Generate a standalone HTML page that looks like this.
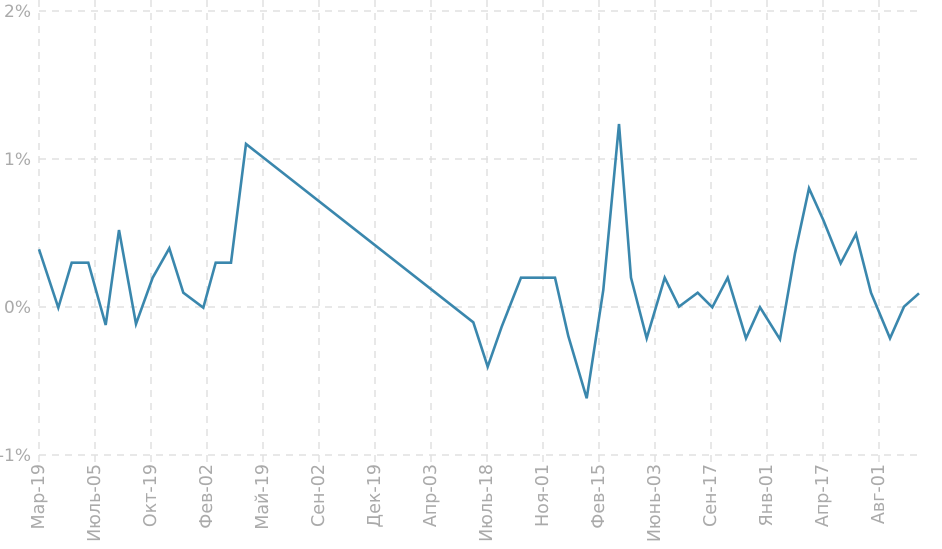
<!DOCTYPE html>
<html><head><meta charset="utf-8"><style>
html,body{margin:0;padding:0;background:#fff;}
svg{display:block;font-family:"DejaVu Sans","Liberation Sans",sans-serif;}
</style></head><body>
<svg width="942" height="549" viewBox="0 0 942 549" xmlns="http://www.w3.org/2000/svg">
<g stroke="#e0e0e0" stroke-width="1.5" stroke-dasharray="7,6" fill="none">
<line x1="39" y1="11" x2="919" y2="11"/>
<line x1="39" y1="159" x2="919" y2="159"/>
<line x1="39" y1="307" x2="919" y2="307"/>
<line x1="39" y1="455" x2="919" y2="455"/>
<line x1="39" y1="0" x2="39" y2="462"/>
<line x1="95" y1="0" x2="95" y2="462"/>
<line x1="151" y1="0" x2="151" y2="462"/>
<line x1="207" y1="0" x2="207" y2="462"/>
<line x1="263" y1="0" x2="263" y2="462"/>
<line x1="319" y1="0" x2="319" y2="462"/>
<line x1="375" y1="0" x2="375" y2="462"/>
<line x1="431" y1="0" x2="431" y2="462"/>
<line x1="487" y1="0" x2="487" y2="462"/>
<line x1="543" y1="0" x2="543" y2="462"/>
<line x1="599" y1="0" x2="599" y2="462"/>
<line x1="655" y1="0" x2="655" y2="462"/>
<line x1="711" y1="0" x2="711" y2="462"/>
<line x1="767" y1="0" x2="767" y2="462"/>
<line x1="823" y1="0" x2="823" y2="462"/>
<line x1="879" y1="0" x2="879" y2="462"/>
</g>
<g fill="#aaaaaa" font-size="17" text-anchor="end">
<text x="31" y="17">2%</text>
<text x="31" y="165">1%</text>
<text x="31" y="313">0%</text>
<text x="31" y="461">-1%</text>
</g>
<g fill="#aaaaaa" font-size="17.5" text-anchor="end">
<text transform="translate(44,464) rotate(-90)">Мар-19</text>
<text transform="translate(100,464) rotate(-90)">Июль-05</text>
<text transform="translate(156,464) rotate(-90)">Окт-19</text>
<text transform="translate(212,464) rotate(-90)">Фев-02</text>
<text transform="translate(268,464) rotate(-90)">Май-19</text>
<text transform="translate(324,464) rotate(-90)">Сен-02</text>
<text transform="translate(380,464) rotate(-90)">Дек-19</text>
<text transform="translate(436,464) rotate(-90)">Апр-03</text>
<text transform="translate(492,464) rotate(-90)">Июль-18</text>
<text transform="translate(548,464) rotate(-90)">Ноя-01</text>
<text transform="translate(604,464) rotate(-90)">Фев-15</text>
<text transform="translate(660,464) rotate(-90)">Июнь-03</text>
<text transform="translate(716,464) rotate(-90)">Сен-17</text>
<text transform="translate(772,464) rotate(-90)">Янв-01</text>
<text transform="translate(828,464) rotate(-90)">Апр-17</text>
<text transform="translate(884,464) rotate(-90)">Авг-01</text>
</g>
<polyline fill="none" stroke="#3a87ad" stroke-width="2.6" stroke-linejoin="miter" points="39,249.3 58.3,307.7 71.7,262.7 88.3,262.7 105.7,325 119,230 136,324 152.7,277.7 169.3,248.3 183.3,292.7 203.3,307.7 215.7,262.7 231,262.7 246,144 473.3,322.3 487.7,366.7 501.7,326.7 521,277.7 555,277.7 568.3,336 586.7,398.3 603.3,290 619,124 631,277.7 646.7,338.3 664.7,277.7 679,306.7 697.7,292.7 712.3,307.3 727.7,277.7 746,338.3 760,307.3 780,339.3 795,253.3 809,188.3 823.3,220 840.7,263.3 856,234 871,292.7 890,338.3 904,306.7 919,293.3"/>
</svg>
</body></html>
